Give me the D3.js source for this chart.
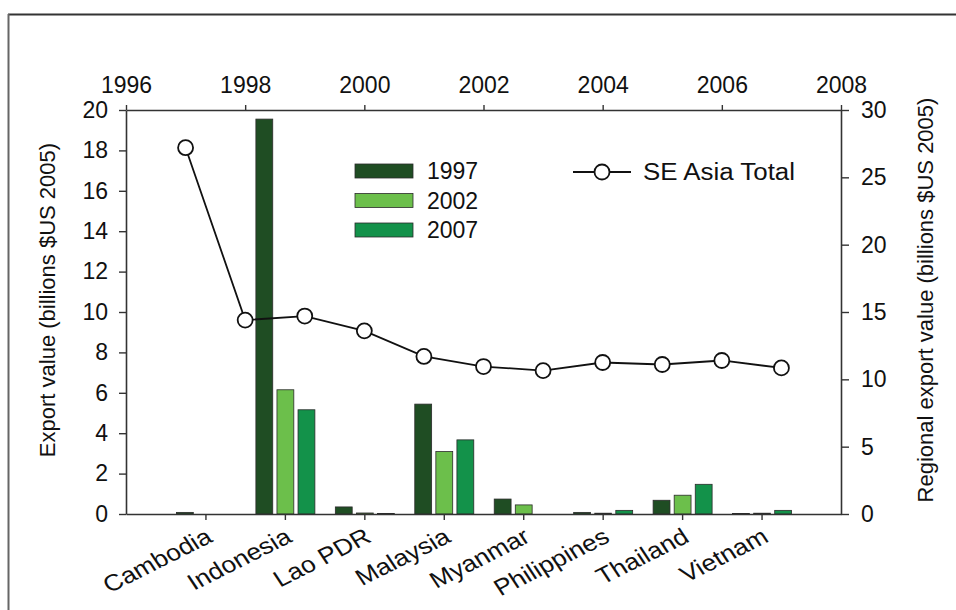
<!DOCTYPE html>
<html>
<head>
<meta charset="utf-8">
<script src="https://cdn.jsdelivr.net/npm/d3@7"></script>
<style>
  html, body { margin: 0; padding: 0; background: #fff; }
  svg { display: block; font-family: "Liberation Sans", Arial, sans-serif; }
</style>
</head>
<body>
<svg id="chart" width="956" height="610"></svg>
<script>
// ---------- data ----------
const categories = ["Cambodia", "Indonesia", "Lao PDR", "Malaysia", "Myanmar", "Philippines", "Thailand", "Vietnam"];
const seriesNames = ["1997", "2002", "2007"];
const values1997 = [0.08, 19.55, 0.35, 5.44, 0.74, 0.08, 0.68, 0.02];
const values2002 = [0.0, 6.15, 0.05, 3.09, 0.45, 0.04, 0.93, 0.04];
const values2007 = [0.0, 5.16, 0.03, 3.67, 0.0, 0.18, 1.47, 0.18];
const totalYears = [1997, 1998, 1999, 2000, 2001, 2002, 2003, 2004, 2005, 2006, 2007];
const totalValues = [27.2, 14.4, 14.7, 13.6, 11.7, 10.95, 10.65, 11.25, 11.1, 11.4, 10.85];
const leftTicks = [0, 2, 4, 6, 8, 10, 12, 14, 16, 18, 20];
const rightTicks = [0, 5, 10, 15, 20, 25, 30];
const topTicks = [1996, 1998, 2000, 2002, 2004, 2006, 2008];
const lineLabel = "SE Asia Total";
const leftTitle = "Export value (billions $US 2005)";
const rightTitle = "Regional export value (billions $US 2005)";

// ---------- layout ----------
const L = 126, R = 841, T = 110, B = 514;
const colors = ["#1f4d23", "#6cbf4b", "#13924a"];
const fontSize = 23;
const titleSize = 22;

const svg = d3.select("#chart");

// frame
svg.append("line").attr("x1", 8).attr("x2", 956).attr("y1", 14.5).attr("y2", 14.5)
  .attr("stroke", "#333").attr("stroke-width", 2);
svg.append("line").attr("x1", 8.5).attr("x2", 8.5).attr("y1", 14).attr("y2", 610)
  .attr("stroke", "#666").attr("stroke-width", 2);

// scales
const yLeft = d3.scaleLinear().domain([0, 20]).range([B, T]);
const yRight = d3.scaleLinear().domain([0, 30]).range([B, T]);
const xYear = d3.scaleLinear().domain([1996, 2008]).range([L, R]);
const xCat = d3.scaleLinear().domain([0, categories.length + 1]).range([L, R]);
const xSub = d3.scaleBand().domain(seriesNames).range([-29, 30]).paddingInner(0.2);

// bars
const seriesValues = [values1997, values2002, values2007];
seriesNames.forEach((s, j) => {
  svg.append("g").selectAll("rect")
    .data(categories.map((c, i) => ({ i, v: seriesValues[j][i] })))
    .join("rect")
    .attr("x", d => xCat(d.i + 1) + xSub(s))
    .attr("width", xSub.bandwidth())
    .attr("y", d => yLeft(d.v))
    .attr("height", d => B - yLeft(d.v))
    .attr("fill", colors[j])
    .attr("stroke", "#2b2b2b")
    .attr("stroke-width", 0.8);
});

// axes
function styleAxis(g) {
  g.selectAll("path.domain").attr("stroke", "#333").attr("stroke-width", 1.6);
  g.selectAll(".tick line").attr("stroke", "#333").attr("stroke-width", 1.4);
  g.selectAll("text").attr("font-size", fontSize).attr("fill", "#111")
    .attr("font-family", "'Liberation Sans', Arial, sans-serif");
}

svg.append("g").attr("transform", `translate(${L},0)`)
  .call(d3.axisLeft(yLeft).tickValues(leftTicks).tickSize(7).tickPadding(11).tickSizeOuter(0))
  .call(styleAxis);

svg.append("g").attr("transform", `translate(${R},0)`)
  .call(d3.axisRight(yRight).tickValues(rightTicks).tickSize(8).tickPadding(12).tickSizeOuter(0))
  .call(styleAxis);

svg.append("g").attr("transform", `translate(0,${T})`)
  .call(d3.axisTop(xYear).tickValues(topTicks).tickFormat(d3.format("d")).tickSize(5).tickPadding(12).tickSizeOuter(0))
  .call(styleAxis);

const bottomAxis = svg.append("g").attr("transform", `translate(0,${B})`)
  .call(d3.axisBottom(xCat).tickValues(d3.range(1, categories.length + 1))
    .tickFormat(d => categories[d - 1]).tickSize(6).tickSizeOuter(0))
  .call(styleAxis);
bottomAxis.selectAll(".tick text")
  .attr("text-anchor", "end")
  .attr("x", 0).attr("y", 0).attr("dy", 0)
  .attr("transform", "translate(8,27) scale(1.15,1) rotate(-30)");

// line series
const lineGen = d3.line().x(d => xYear(d[0])).y(d => yRight(d[1]));
const pts = totalYears.map((y, i) => [y, totalValues[i]]);
svg.append("path").datum(pts).attr("d", lineGen)
  .attr("fill", "none").attr("stroke", "#111").attr("stroke-width", 1.8);
svg.append("g").selectAll("circle").data(pts).join("circle")
  .attr("cx", d => xYear(d[0])).attr("cy", d => yRight(d[1])).attr("r", 7.5)
  .attr("fill", "#fff").attr("stroke", "#111").attr("stroke-width", 1.8);

// legend - bars
const lg = svg.append("g");
seriesNames.forEach((s, j) => {
  const cy = 171 + j * 29.5;
  lg.append("rect").attr("x", 355).attr("y", cy - 7).attr("width", 58).attr("height", 14)
    .attr("fill", colors[j]).attr("stroke", "#2b2b2b").attr("stroke-width", 0.8);
  lg.append("text").attr("x", 427).attr("y", cy).attr("dy", "0.36em")
    .attr("font-size", fontSize).attr("fill", "#111").text(s);
});
// legend - line
lg.append("line").attr("x1", 573).attr("x2", 631).attr("y1", 172).attr("y2", 172)
  .attr("stroke", "#111").attr("stroke-width", 1.8);
lg.append("circle").attr("cx", 602).attr("cy", 172).attr("r", 7.5)
  .attr("fill", "#fff").attr("stroke", "#111").attr("stroke-width", 1.8);
lg.append("text").attr("x", 643).attr("y", 172).attr("dy", "0.36em")
  .attr("font-size", fontSize).attr("fill", "#111")
  .attr("textLength", 152).attr("lengthAdjust", "spacingAndGlyphs")
  .text(lineLabel);

// axis titles
svg.append("text").attr("transform", "translate(47,300) rotate(-90)")
  .attr("text-anchor", "middle").attr("dy", "0.36em")
  .attr("font-size", titleSize).attr("fill", "#111").text(leftTitle);
svg.append("text").attr("transform", "translate(925,300) rotate(-90)")
  .attr("text-anchor", "middle").attr("dy", "0.36em")
  .attr("font-size", titleSize).attr("fill", "#111").text(rightTitle);
</script>
</body>
</html>
